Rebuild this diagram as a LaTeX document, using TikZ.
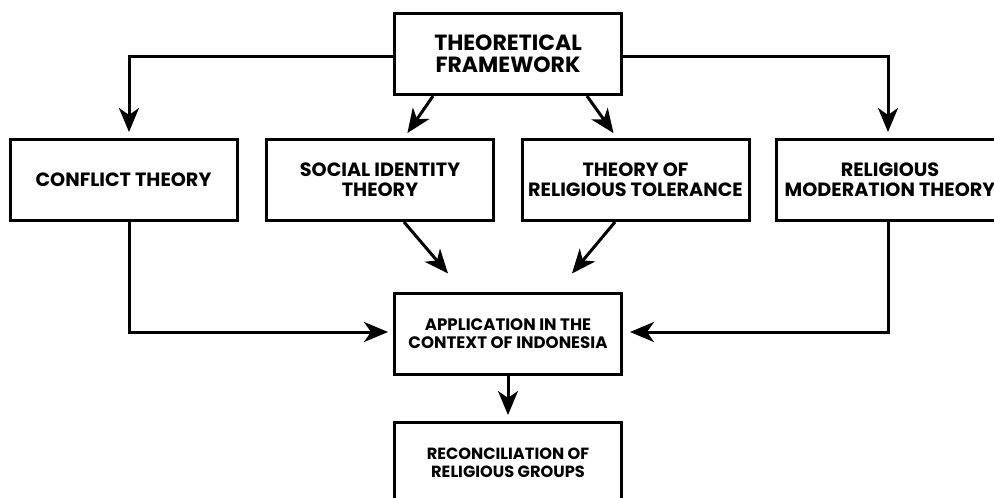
\documentclass[tikz,border=0pt]{standalone}
\usepackage{fontspec}
\setmainfont{Poppins}
\usetikzlibrary{arrows.meta,calc}
\begin{document}
\begin{tikzpicture}[x=1pt,y=-1pt,
  box/.style={draw=black,line width=3pt,fill=white,minimum width=227pt,minimum height=81pt,
    align=center,inner sep=0pt,font=\fontsize{19.2}{20}\selectfont\bfseries},
  conn/.style={draw=black,line width=3pt,-{Stealth[length=24pt,width=20pt,inset=7pt]}}]
\useasboundingbox (0,0) rectangle (994,498);
\clip (0,0) rectangle (994,498);
\fill[white] (0,0) rectangle (994,498);
\node[box,font=\fontsize{22}{22}\selectfont\bfseries] (tf) at (508,54) {THEORETICAL\\FRAMEWORK};
\node[box] (ct) at (123.5,180) {CONFLICT THEORY};
\node[box] (si) at (380,180) {SOCIAL IDENTITY\\THEORY};
\node[box] (rt) at (635.5,180) {THEORY OF\\RELIGIOUS TOLERANCE};
\node[box] (rm) at (890,180) {RELIGIOUS\\MODERATION THEORY};
\node[box,font=\fontsize{16.6}{18}\selectfont\bfseries] (app) at (508,333.5) {APPLICATION IN THE\\CONTEXT OF INDONESIA};
\node[box,font=\fontsize{16.2}{18}\selectfont\bfseries] (rec) at (508,463) {RECONCILIATION OF\\RELIGIOUS GROUPS};
\coordinate (lsi) at ($(app.north)+(-60,-18)$);
\coordinate (lrt) at ($(app.north)+(64,-18)$);
\draw[conn,shorten >=6pt] ([yshift=-2pt]tf.west) -| ([xshift=5.5pt]ct.north);
\draw[conn,shorten >=6pt] ([yshift=-2pt]tf.east) -| ([xshift=-2pt]rm.north);
\draw[conn,shorten >=6pt] ([xshift=-75pt]tf.south) -- ([xshift=24pt]si.north);
\draw[conn,shorten >=6pt] ([xshift=79pt]tf.south) -- ([xshift=-18.5pt]rt.north);
\draw[conn] ([xshift=24pt]si.south) -- (lsi);
\draw[conn] ([xshift=-20.5pt]rt.south) -- (lrt);
\draw[conn,shorten >=5pt] ([xshift=5.5pt]ct.south) |- ([yshift=1.5pt]app.west);
\draw[conn,shorten >=7pt] ([xshift=-2pt]rm.south) |- ([yshift=1.5pt]app.east);
\draw[conn,shorten >=6pt] (app.south) -- (rec.north);
\end{tikzpicture}
\end{document}
